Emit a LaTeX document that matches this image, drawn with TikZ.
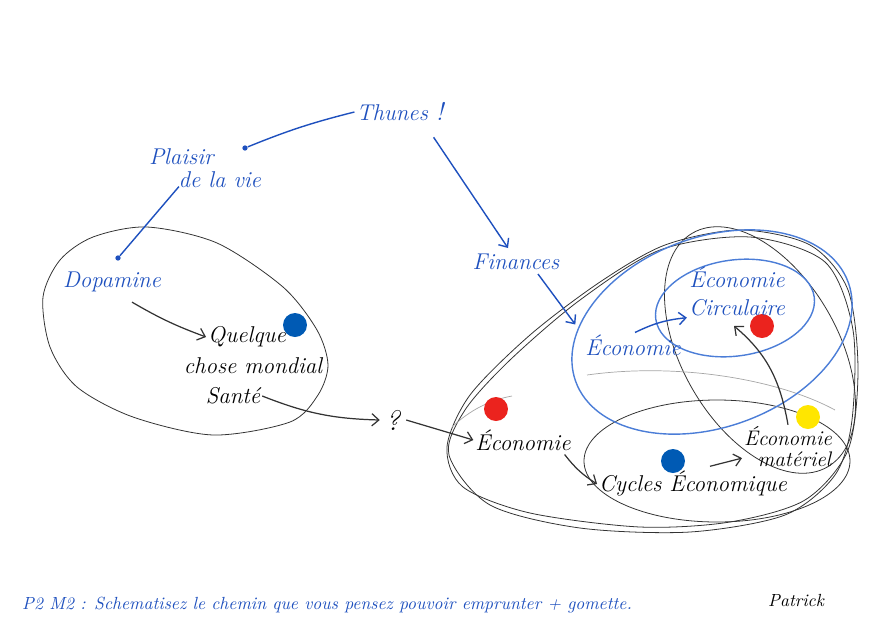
\documentclass[tikz,border=0pt]{standalone}
\usepackage{tikz}
\usetikzlibrary{calc,positioning,arrows.meta}
\definecolor{ink}{RGB}{30,80,190}
\definecolor{lightink}{RGB}{75,125,215}
\definecolor{gomblue}{RGB}{0,90,180}
\definecolor{gomred}{RGB}{235,35,30}
\definecolor{gomyellow}{RGB}{255,230,0}
\tikzset{
  hand/.style={font=\fontsize{13}{16}\selectfont\itshape, inner sep=1pt},
  inkline/.style={ink, line width=0.8pt},
  pencil/.style={black!80, line width=0.45pt},
  gomette/.style={circle, minimum size=0.48cm, inner sep=0pt, fill=#1},
  pinpt/.style={circle, fill=ink, inner sep=0pt, minimum size=3pt},
}

\begin{document}
\begin{tikzpicture}[x=0.02cm,y=-0.02cm,>={Straight Barb[length=4pt,width=7pt]}]
  \useasboundingbox (0,0) rectangle (877,620);
  % left blob
  \draw[pencil] plot[smooth cycle] coordinates {(147,227) (217,243) (283,287) (317,330) (328,365) (318,395) (290,422) (213,435) (133,417) (77,387) (50,347) (43,297) (60,260) (93,237)};
  % right blobs
  \draw[pencil] plot[smooth cycle] coordinates {(447,447) (470,395) (530,335) (600,282) (665,245) (740,230) (810,245) (848,290) (858,370) (848,450) (805,500) (730,522) (640,527) (530,513) (463,487)};
  \draw[pencil] plot[smooth cycle] coordinates {(449,455) (465,410) (510,360) (580,300) (660,250) (750,237) (825,262) (853,330) (852,420) (835,475) (785,515) (690,532) (580,528) (490,505)};
  \draw[pencil, rotate around={-60:(760,350)}] (760,350) ellipse [x radius=135, y radius=78];
  \draw[pencil] (717,461) ellipse [x radius=133, y radius=61];
  \draw[black!35, line width=0.4pt] (587,375) .. controls (680,362) and (780,380) .. (835,410);
  \draw[black!35, line width=0.4pt] (452,427) .. controls (470,410) and (490,400) .. (512,396);
  \draw[lightink, line width=0.8pt, rotate around={20:(712,332)}] (712,332) ellipse [x radius=145, y radius=95];
  \draw[lightink, line width=0.8pt, rotate around={8:(735,308)}] (735,308) ellipse [x radius=80, y radius=48];

  % gomettes
  \node[gomette=gomblue] (gb1) at (295,325) {};
  \node[gomette=gomred] (gr1) at (496,409) {};
  \node[gomette=gomblue] (gb2) at (673,461) {};
  \node[gomette=gomyellow] (gy) at (808,417) {};
  \node[gomette=gomred] (gr2) at (762,326) {};

  \begin{scope}[color=ink]
    \node[hand] (thunes) at (400,112) {Thunes {\Large !}};
    \node[pinpt] (pin1) at (245,148) {};
    \node[hand, align=left] (plaisir) at (205,168) {Plaisir\\[-3pt]\hspace{1.3em}de la vie};
    \node[pinpt] (pin2) at (118,258) {};
    \node[hand] (dopa) at (112,282) {Dopamine};
    \node[hand] (fin) at (516,262) {Finances};
    \node[hand] (ecob) at (633,345) {Économie};
    \node[hand, align=center] (circ) at (737,291) {Économie\\Circulaire};
    \draw[inkline] (thunes.west) to[bend right=4] (pin1);
    \draw[inkline] (plaisir.south west) ++(32,-3) coordinate (pl0) -- (pin2);
    \draw[inkline, ->] ($(thunes.south east)+(-12,14)$) -- ($(fin.north)+(-8,-4)$);
    \draw[inkline, ->] ($(fin.south)+(22,2)$) -- ($(ecob.north west)+(-8,-8)$);
    \draw[inkline, ->] ($(ecob.north)+(2,0)$) to[bend left=10] (circ.south west);
  \end{scope}

  \node[hand] (q1) at (247,337) {Quelque};
  \node[hand] (q2) at (253,366) {chose mondial};
  \node[hand] (q3) at (233,396) {Santé};
  \node[font=\fontsize{16}{18}\selectfont\itshape] (quest) at (393,420) {?};
  \node[hand] (eco1) at (523,440) {Économie};
  \node[hand] (cycles) at (693,484) {Cycles Économique};
  \node[hand, align=center, font=\fontsize{12}{14}\selectfont\itshape] (ecomat) at (788,447) {Économie\\[-2pt]\hspace{0.6em}matériel};
  \coordinate (circtip) at (734,326);

  \draw[pencil, line width=0.7pt, ->] (dopa.south) ++(20,8) coordinate (d0) to[bend left=-5] (q1.west);
  \draw[pencil, line width=0.7pt, ->] (q3.east) to[bend left=-10] (quest.west);
  \draw[pencil, line width=0.7pt, ->] (quest.east) -- (eco1.west);
  \draw[pencil, line width=0.7pt, ->] ($(eco1.south east)+(-8,2)$) to[bend right=10] (cycles.west);
  \draw[pencil, line width=0.7pt, ->] ($(cycles.north)+(17,-3)$) -- ($(ecomat.south west)!0.5!(ecomat.west)$);
  \draw[pencil, line width=0.7pt, ->] (ecomat.north) to[out=100,in=-40] (circtip);

  \node[ink, font=\fontsize{10}{12}\selectfont\itshape, anchor=west] (consigne) at (16,605) {P2 M2 : Schematisez le chemin que vous pensez pouvoir emprunter + gomette.};
  \node[font=\fontsize{10}{12}\selectfont\itshape] (nom) at (796,600) {Patrick};
\end{tikzpicture}
\end{document}
